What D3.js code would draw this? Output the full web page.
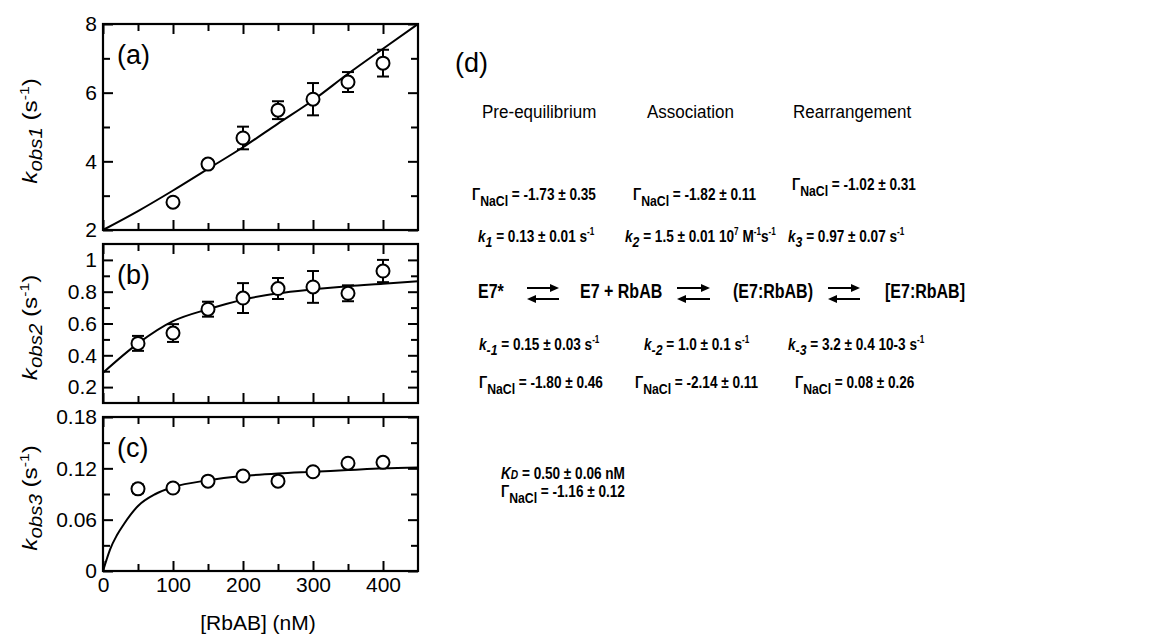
<!DOCTYPE html>
<html>
<head>
<meta charset="utf-8">
<script src="https://cdn.jsdelivr.net/npm/d3@7"></script>
<style>
  body { margin: 0; background: #fff; }
  svg text { font-family: "Liberation Sans", Arial, Helvetica, sans-serif; fill: #000; }
</style>
</head>
<body>
<div id="chart"></div>
<script>
var width = 1164,
    height = 636;

// x axis (shared)
var xDomain = [0, 450];
var xMajor = [0, 100, 200, 300, 400];
var xMinor = [50, 150, 250, 350];

// (a) k_obs1
var conc1 = [100, 150, 200, 250, 300, 350, 400];
var kobs1 = [2.81, 3.92, 4.68, 5.49, 5.81, 6.31, 6.86];
var kobs1Err = [0.1, 0.1, 0.33, 0.26, 0.47, 0.29, 0.39];
var fit1X = [0, 50, 100, 150, 200, 250, 300, 350, 400, 450];
var fit1 = [2, 2.55, 3.15, 3.78, 4.41, 5.1, 5.78, 6.55, 7.28, 8];

// (b) k_obs2
var conc2 = [50, 100, 150, 200, 250, 300, 350, 400];
var kobs2 = [0.475, 0.54, 0.69, 0.76, 0.82, 0.83, 0.79, 0.93];
var kobs2Err = [0.047, 0.056, 0.047, 0.094, 0.066, 0.1, 0.05, 0.07];
var fit2X = [0, 50, 100, 150, 200, 250, 300, 350, 400, 450];
var fit2 = [0.29, 0.475, 0.615, 0.69, 0.75, 0.79, 0.815, 0.835, 0.85, 0.865];

// (c) k_obs3
var conc3 = [50, 100, 150, 200, 250, 300, 350, 400];
var kobs3 = [0.096, 0.097, 0.105, 0.111, 0.105, 0.116, 0.126, 0.127];
var kobs3Err = [0.005, 0.004, 0.002, 0.002, 0.002, 0.002, 0.002, 0.002];
var fit3X = [0, 5, 10, 20, 30, 50, 75, 100, 150, 200, 250, 300, 350, 400, 450];
var fit3 = [0, 0.013, 0.025, 0.042, 0.055, 0.076, 0.09, 0.098, 0.106, 0.111, 0.114, 0.116, 0.118, 0.12, 0.121];

var panels = [
  { label: "(a)", sub: "obs1", top: 24, bottom: 230,
    yDomain: [2, 8], yMajor: [2, 4, 6, 8], yMinor: [3, 5, 7],
    x: conc1, y: kobs1, err: kobs1Err, fx: fit1X, fy: fit1 },
  { label: "(b)", sub: "obs2", top: 244, bottom: 403,
    yDomain: [0.1, 1.1], yMajor: [0.2, 0.4, 0.6, 0.8, 1], yMinor: [0.3, 0.5, 0.7, 0.9],
    x: conc2, y: kobs2, err: kobs2Err, fx: fit2X, fy: fit2 },
  { label: "(c)", sub: "obs3", top: 417, bottom: 571,
    yDomain: [0, 0.18], yMajor: [0, 0.06, 0.12, 0.18], yMinor: [0.03, 0.09, 0.15],
    x: conc3, y: kobs3, err: kobs3Err, fx: fit3X, fy: fit3, xLabels: true }
];

var left = 103, right = 418;

var svg = d3.select("#chart").append("svg")
    .attr("width", width)
    .attr("height", height);

svg.append("rect").attr("width", width).attr("height", height).attr("fill", "#fff");

var x = d3.scaleLinear().domain(xDomain).range([left, right]);

// text with sub/superscripts; sx squeezes or stretches it along the line
var rich = function(g, px, py, size, parts, sx) {
  var holder = g.append("g").attr("transform", "translate(" + px + "," + py + ") scale(" + (sx || 1) + ",1)");
  var t = holder.append("text").attr("x", 0).attr("y", 0).attr("font-size", size);
  var shift = 0;
  parts.forEach(function(p){
    var s = t.append("tspan").text(p.t);
    var want = p.sub ? size * (p.d != null ? p.d : 0.3) : p.sup ? -size * 0.4 : 0;
    if (want - shift !== 0) s.attr("dy", want - shift);
    shift = want;
    if (p.sub || p.sup) s.attr("font-size", size * (p.s || 0.7));
    if (p.i) s.attr("font-style", "italic");
    if (p.b) s.attr("font-weight", "bold");
  });
  return t;
};

panels.forEach(function(p){
  var y = d3.scaleLinear().domain(p.yDomain).range([p.bottom, p.top]);
  var g = svg.append("g");

  var fmt = function(d){ return String(d); };

  var axes = [
    [d3.axisLeft(y).tickValues(p.yMajor).tickSize(-10).tickPadding(6).tickFormat(fmt), left],
    [d3.axisLeft(y).tickValues(p.yMinor).tickSize(-7).tickFormat(""), left],
    [d3.axisRight(y).tickValues(p.yMajor).tickSize(-10).tickFormat(""), right],
    [d3.axisRight(y).tickValues(p.yMinor).tickSize(-7).tickFormat(""), right]
  ];
  axes.forEach(function(a){
    g.append("g").attr("transform", "translate(" + a[1] + ",0)").call(a[0]);
  });

  var xaxes = [
    [d3.axisBottom(x).tickValues(xMajor).tickSize(-10).tickPadding(6).tickFormat(p.xLabels ? fmt : ""), p.bottom],
    [d3.axisBottom(x).tickValues(xMinor).tickSize(-7).tickFormat(""), p.bottom],
    [d3.axisTop(x).tickValues(xMajor).tickSize(-10).tickFormat(""), p.top],
    [d3.axisTop(x).tickValues(xMinor).tickSize(-7).tickFormat(""), p.top]
  ];
  xaxes.forEach(function(a){
    g.append("g").attr("transform", "translate(0," + a[1] + ")").call(a[0]);
  });

  g.selectAll(".domain").remove();
  g.selectAll(".tick line").attr("stroke", "#000").attr("stroke-width", 2);
  g.selectAll(".tick text")
    .attr("font-size", 21)
    .attr("font-family", "'Liberation Sans', Arial, sans-serif")
    .attr("fill", "#000");

  g.append("rect")
    .attr("x", left).attr("y", p.top)
    .attr("width", right - left).attr("height", p.bottom - p.top)
    .attr("fill", "none").attr("stroke", "#000").attr("stroke-width", 2.2);

  // fit curve
  var line = d3.line()
    .x(function(d){ return x(d[0]); })
    .y(function(d){ return y(d[1]); })
    .curve(d3.curveMonotoneX);
  g.append("path")
    .datum(d3.zip(p.fx, p.fy))
    .attr("d", line)
    .attr("fill", "none").attr("stroke", "#000").attr("stroke-width", 2);

  // error bars
  var pts = p.x.map(function(v, i){ return { x: v, y: p.y[i], e: p.err[i] }; });
  var eb = g.selectAll("g.err").data(pts).enter().append("g").attr("class", "err")
    .attr("stroke", "#000").attr("stroke-width", 2);
  eb.append("line")
    .attr("x1", function(d){ return x(d.x); }).attr("x2", function(d){ return x(d.x); })
    .attr("y1", function(d){ return y(d.y - d.e); }).attr("y2", function(d){ return y(d.y + d.e); });
  [1, -1].forEach(function(s){
    eb.append("line")
      .attr("x1", function(d){ return x(d.x) - 6; }).attr("x2", function(d){ return x(d.x) + 6; })
      .attr("y1", function(d){ return y(d.y + s * d.e); }).attr("y2", function(d){ return y(d.y + s * d.e); });
  });

  g.selectAll("circle").data(pts).enter().append("circle")
    .attr("cx", function(d){ return x(d.x); })
    .attr("cy", function(d){ return y(d.y); })
    .attr("r", 6.5)
    .attr("fill", "#fff").attr("stroke", "#000").attr("stroke-width", 2);

  // panel label
  g.append("text").attr("x", left + 14).attr("y", p.top + 40)
    .attr("font-size", 27).text(p.label);

  // y title
  var cy = (p.top + p.bottom) / 2 + 4;
  var yt = g.append("g").attr("transform", "translate(37," + cy + ") rotate(-90)");
  rich(yt, 0, 0, 21, [
    { t: "k", i: true },
    { t: p.sub, i: true, sub: true, s: 0.85, d: 0.25 },
    { t: " (s" },
    { t: "-1", sup: true, s: 0.65 },
    { t: ")" }
  ], 1.15).attr("text-anchor", "middle");
});

// x title
svg.append("text").attr("x", 258).attr("y", 630).attr("text-anchor", "middle")
  .attr("font-size", 21).text("[RbAB] (nM)");

// ---- panel (d) ----
var d = svg.append("g");
d.append("text").attr("x", 455).attr("y", 72).attr("font-size", 27).text("(d)");

var headers = ["Pre-equilibrium", "Association", "Rearrangement"];
var headerX = [482, 647, 793];
headers.forEach(function(h, i){
  rich(d, headerX[i], 118, 18.5, [{ t: h }], 0.92);
});

var bsz = 17, bsx = 0.8;

var gamma = function(px, py, val) {
  return rich(d, px, py, bsz, [
    { t: "Γ" },
    { t: "NaCl", sub: true, s: 0.9, d: 0.35 },
    { t: " =  " + val }
  ], bsx).attr("font-weight", "bold");
};

var gammaFwd = ["-1.73 ± 0.35", "-1.82 ± 0.11", "-1.02 ± 0.31"];
var gammaRev = ["-1.80 ± 0.46", "-2.14 ± 0.11", "0.08 ± 0.26"];
gamma(472, 200, gammaFwd[0]);
gamma(633, 200, gammaFwd[1]);
gamma(792, 190, gammaFwd[2]);

var kfwd = [
  [{ t: "k", i: true }, { t: "1", i: true, sub: true, s: 0.9, d: 0.3 }, { t: " =  0.13 ± 0.01 s" }, { t: "-1", sup: true, s: 0.6 }],
  [{ t: "k", i: true }, { t: "2", i: true, sub: true, s: 0.9, d: 0.3 }, { t: " = 1.5 ± 0.01  10" }, { t: "7", sup: true, s: 0.6 }, { t: " M" }, { t: "-1", sup: true, s: 0.6 }, { t: "s" }, { t: "-1", sup: true, s: 0.6 }],
  [{ t: "k", i: true }, { t: "3", i: true, sub: true, s: 0.9, d: 0.3 }, { t: " = 0.97 ± 0.07 s" }, { t: "-1", sup: true, s: 0.6 }]
];
var kfwdX = [478, 625, 788];
kfwd.forEach(function(parts, i){
  rich(d, kfwdX[i], 242, bsz, parts, bsx).attr("font-weight", "bold");
});

// reaction scheme
var species = ["E7*", "E7  + RbAB", "(E7:RbAB)", "[E7:RbAB]"];
var speciesX = [478, 580, 733, 885];
species.forEach(function(s, i){
  rich(d, speciesX[i], 298, 20, [{ t: s }], 0.8).attr("font-weight", "bold");
});

var arrowX = [[527, 559], [677, 710], [828, 860]];
arrowX.forEach(function(a){
  var ya = 288, yb = 299;
  d.append("line").attr("x1", a[0]).attr("x2", a[1] - 6).attr("y1", ya).attr("y2", ya)
    .attr("stroke", "#000").attr("stroke-width", 2);
  d.append("path").attr("d", "M" + a[1] + "," + ya + "L" + (a[1] - 9) + "," + (ya - 4) + "L" + (a[1] - 9) + "," + (ya + 4) + "Z");
  d.append("line").attr("x1", a[0] + 6).attr("x2", a[1]).attr("y1", yb).attr("y2", yb)
    .attr("stroke", "#000").attr("stroke-width", 2);
  d.append("path").attr("d", "M" + a[0] + "," + yb + "L" + (a[0] + 9) + "," + (yb - 4) + "L" + (a[0] + 9) + "," + (yb + 4) + "Z");
});

var krev = [
  [{ t: "k", i: true }, { t: "-1", i: true, sub: true, s: 0.9, d: 0.3 }, { t: " = 0.15 ± 0.03 s" }, { t: "-1", sup: true, s: 0.6 }],
  [{ t: "k", i: true }, { t: "-2", i: true, sub: true, s: 0.9, d: 0.3 }, { t: " = 1.0 ± 0.1 s" }, { t: "-1", sup: true, s: 0.6 }],
  [{ t: "k", i: true }, { t: "-3", i: true, sub: true, s: 0.9, d: 0.3 }, { t: " = 3.2 ± 0.4 10-3 s" }, { t: "-1", sup: true, s: 0.6 }]
];
var krevX = [479, 644, 788];
krev.forEach(function(parts, i){
  rich(d, krevX[i], 350, bsz, parts, bsx).attr("font-weight", "bold");
});

gamma(479, 388, gammaRev[0]);
gamma(635, 388, gammaRev[1]);
gamma(795, 388, gammaRev[2]);

rich(d, 501, 479, bsz, [
  { t: "K", i: true },
  { t: "D", i: true, sub: true, s: 0.75, d: 0 },
  { t: " = 0.50 ± 0.06 nM" }
], bsx).attr("font-weight", "bold");
gamma(501, 497, "-1.16 ± 0.12");
</script>
</body>
</html>
